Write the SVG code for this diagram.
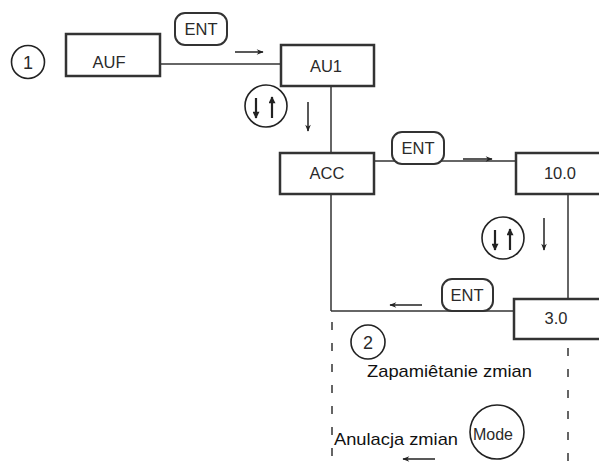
<svg xmlns="http://www.w3.org/2000/svg" width="599" height="463" viewBox="0 0 599 463">
<defs>
<marker id="ah" viewBox="0 0 10 10" refX="9" refY="5" markerWidth="9" markerHeight="7" markerUnits="userSpaceOnUse" orient="auto">
<path d="M0,1 L10,5 L0,9 L3,5 Z" fill="#222"/>
</marker>
<marker id="sh" viewBox="0 0 10 10" refX="9" refY="5" markerWidth="8" markerHeight="7" markerUnits="userSpaceOnUse" orient="auto">
<path d="M0,0 L10,5 L0,10 Z" fill="#222"/>
</marker>
</defs>
<style>
.box{fill:#fff;stroke:#333;stroke-width:2.5}
.key{fill:#fff;stroke:#333;stroke-width:2}
.ln{fill:none;stroke:#333;stroke-width:1.5}
.ar{fill:none;stroke:#222;stroke-width:1.5;marker-end:url(#ah)}
.sa{fill:none;stroke:#222;stroke-width:2.2;marker-end:url(#sh)}
.dash{fill:none;stroke:#333;stroke-width:1.5;stroke-dasharray:8 13}
.circ{fill:#fff;stroke:#222;stroke-width:1.6}
text{font-family:"Liberation Sans",Arial,sans-serif;fill:#2a2a2a}
.t{font-size:16.5px;text-anchor:middle}
.num{font-size:18px;text-anchor:middle}
.big{font-size:17px;fill:#111}
</style>
<g id="connectors">
<line class="ln" x1="156" y1="64" x2="280" y2="64"/>
<line class="ln" x1="331" y1="86" x2="331" y2="311"/>
<line class="ln" x1="374" y1="161" x2="516" y2="161"/>
<line class="ln" x1="568" y1="194" x2="568" y2="299"/>
<line class="ln" x1="331" y1="311" x2="514" y2="311"/>
<line class="dash" x1="332" y1="322" x2="332" y2="463"/>
<line class="dash" x1="568" y1="348" x2="568" y2="463"/>
<line class="ar" x1="235" y1="52" x2="263" y2="52"/>
<line class="ar" x1="463" y1="159" x2="492" y2="159"/>
<line class="ar" x1="308" y1="102" x2="308" y2="131"/>
<line class="ar" x1="544" y1="218" x2="544" y2="250"/>
<line class="ar" x1="422" y1="305" x2="390" y2="305"/>
<line class="ar" x1="435" y1="459" x2="403" y2="459"/>
</g>
<g id="n1"><circle class="circ" cx="28" cy="62" r="16.5"/><text class="num" x="28" y="69">1</text></g>
<g id="auf"><rect class="box" x="66" y="34" width="94" height="42"/><text class="t" x="109" y="68">AUF</text></g>
<g id="ent1"><rect class="key" x="175" y="13" width="52" height="32" rx="10"/><text class="t" x="201" y="35">ENT</text></g>
<g id="au1"><rect class="box" x="281" y="45" width="93" height="41"/><text class="t" x="326" y="72">AU1</text></g>
<g id="ud1"><circle class="circ" cx="266" cy="106" r="21"/><line class="sa" x1="256" y1="98" x2="256" y2="118"/><line class="sa" x1="272" y1="118" x2="272" y2="97"/></g>
<g id="acc"><rect class="box" x="280" y="153" width="94" height="41"/><text class="t" x="327" y="179">ACC</text></g>
<g id="ent2"><rect class="key" x="392" y="132" width="52" height="32" rx="10"/><text class="t" x="418" y="154">ENT</text></g>
<g id="v10"><rect class="box" x="516" y="153" width="90" height="41"/><text class="t" x="560" y="179">10.0</text></g>
<g id="ud2"><circle class="circ" cx="503" cy="238" r="21"/><line class="sa" x1="495" y1="230" x2="495" y2="250"/><line class="sa" x1="510" y1="250" x2="510" y2="229"/></g>
<g id="v3"><rect class="box" x="514" y="299" width="92" height="40"/><text class="t" x="556" y="324">3.0</text></g>
<g id="ent3"><rect class="key" x="442" y="279" width="51" height="32" rx="10"/><text class="t" x="467" y="301">ENT</text></g>
<g id="n2"><circle class="circ" cx="368" cy="342" r="17"/><text class="num" x="368" y="349">2</text></g>
<g id="save"><text class="big" x="367" y="377" textLength="165" lengthAdjust="spacingAndGlyphs">Zapamiêtanie zmian</text></g>
<g id="cancel"><text class="big" x="334" y="445" textLength="124" lengthAdjust="spacingAndGlyphs">Anulacja zmian</text></g>
<g id="mode"><circle class="circ" cx="497" cy="432" r="27"/><text x="493" y="440" style="font-size:16px;text-anchor:middle">Mode</text></g>
</svg>
